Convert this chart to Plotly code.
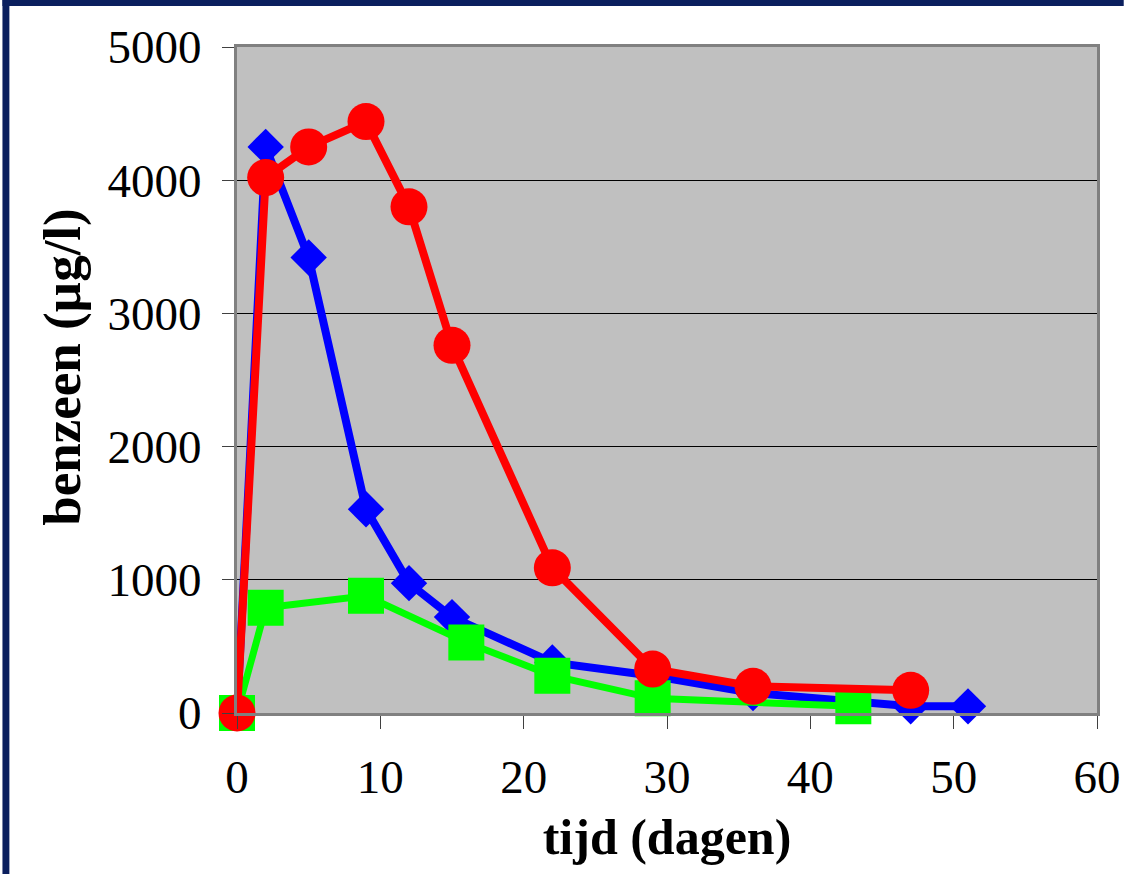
import plotly.graph_objects as go

# Benzeen-concentratie in de tijd, drie meetreeksen
tijd_blauw = [0, 2, 5, 9, 12, 15, 22, 29, 36, 47, 51]
benzeen_blauw = [0, 4250, 3420, 1530, 975, 720, 380, 280, 150, 50, 50]

tijd_rood = [0, 2, 5, 9, 12, 15, 22, 29, 36, 47]
benzeen_rood = [0, 4020, 4250, 4440, 3800, 2760, 1090, 330, 200, 170]

tijd_groen = [0, 2, 9, 16, 22, 29, 43]
benzeen_groen = [0, 790, 880, 530, 280, 110, 50]

x_ticks = [0, 10, 20, 30, 40, 50, 60]
y_ticks = [0, 1000, 2000, 3000, 4000, 5000]

SERIF = "Liberation Serif, Times New Roman, serif"
NAVY = "#0B1F5E"

fig = go.Figure()

fig.add_trace(go.Scatter(
    x=tijd_blauw, y=benzeen_blauw, mode="lines+markers",
    line=dict(color="#0000FF", width=8),
    marker=dict(symbol="diamond", size=28, color="#0000FF"),
    cliponaxis=False, showlegend=False,
))
fig.add_trace(go.Scatter(
    x=tijd_groen, y=benzeen_groen, mode="lines+markers",
    line=dict(color="#00FF00", width=7),
    marker=dict(symbol="square", size=36, color="#00FF00"),
    cliponaxis=False, showlegend=False,
))
fig.add_trace(go.Scatter(
    x=tijd_rood, y=benzeen_rood, mode="lines+markers",
    line=dict(color="#FF0000", width=8),
    marker=dict(symbol="circle", size=37, color="#FF0000"),
    cliponaxis=False, showlegend=False,
))

# plot area in pixels: x 237..1106, y 47..713 of a 1133x874 page
W, H = 1133, 874
L, R, T, B = 237, 27, 47, 161
pw, ph = W - L - R, H - T - B


def px_x(p):
    return (p - L) / pw


def px_y(p):
    return (H - B - p) / ph


shapes = [
    # navy frame on top and left side
    dict(type="rect", xref="paper", yref="paper",
         x0=px_x(0), x1=px_x(W), y0=px_y(6), y1=px_y(0),
         fillcolor=NAVY, line=dict(width=0), layer="above"),
    dict(type="rect", xref="paper", yref="paper",
         x0=px_x(0), x1=px_x(7), y0=px_y(H), y1=px_y(0),
         fillcolor=NAVY, line=dict(width=0), layer="above"),
]

# vertical axis title, placed as a rotated annotation
annotations = [
    dict(text="<b>benzeen (µg/l)</b>", textangle=-90,
         xref="paper", yref="paper", x=px_x(60), y=px_y(367),
         xanchor="center", yanchor="middle", showarrow=False,
         font=dict(size=53, family=SERIF, color="black")),
]

fig.update_layout(
    width=W, height=H,
    margin=dict(l=L, r=R, t=T, b=B, pad=0),
    paper_bgcolor="white",
    plot_bgcolor="#C0C0C0",
    font=dict(family=SERIF, color="black"),
    shapes=shapes,
    annotations=annotations,
    xaxis=dict(
        range=[0, 60], tickvals=x_ticks, ticktext=[str(v) for v in x_ticks],
        showgrid=False, zeroline=False,
        showline=True, linecolor="#808080", linewidth=3, mirror=True,
        ticks="outside", ticklen=13, tickwidth=1, tickcolor="#404040",
        tickfont=dict(size=47, family=SERIF), ticklabelstandoff=8,
        title=dict(text="<b>tijd (dagen)</b>", font=dict(size=50, family=SERIF), standoff=17),
    ),
    yaxis=dict(
        range=[0, 5000], tickvals=y_ticks, ticktext=[str(v) for v in y_ticks],
        showgrid=True, gridcolor="black", gridwidth=1, zeroline=False,
        showline=True, linecolor="#808080", linewidth=3, mirror=True,
        ticks="outside", ticklen=12, tickwidth=1, tickcolor="#404040",
        tickfont=dict(size=47, family=SERIF), ticklabelstandoff=11,
    ),
)

# keep the page exactly the size of the figure (no scrollbars)
page_css = ("document.body.style.margin='0';"
            "document.body.style.overflow='hidden';"
            "document.documentElement.style.overflow='hidden';")

fig.write_html("out.html", post_script=page_css)
